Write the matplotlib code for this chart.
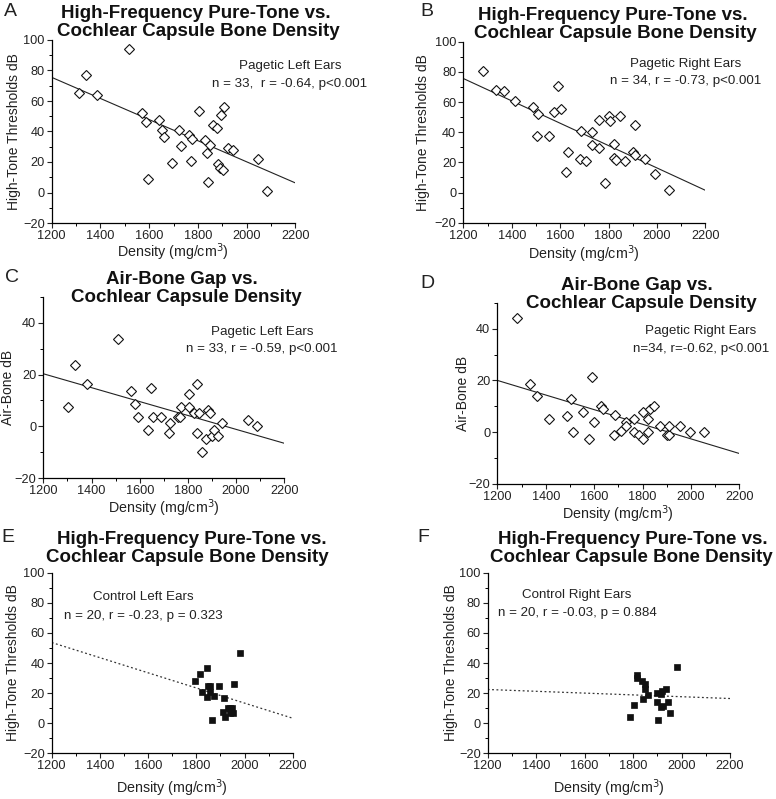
import numpy as np
import matplotlib
matplotlib.use("Agg")
import matplotlib.pyplot as plt
from matplotlib.ticker import MultipleLocator

plt.rcParams['font.family'] = ['Liberation Sans', 'DejaVu Sans']

W, H = 776, 799

# ---- data (density mg/cm3, dB) ----
a_x = [1313, 1341, 1386, 1519, 1571, 1587, 1642, 1651, 1661, 1595, 1692, 1724, 1731,
       1765, 1775, 1773, 1806, 1829, 1836, 1850, 1842, 1861, 1877, 1895, 1909, 1884,
       1891, 1902, 1925, 1943, 2048, 2085]
a_y = [65, 77, 64, 94, 52.4, 46.5, 47.6, 41.1, 36.5, 8.7, 19.6, 41.1, 30.2,
       37.8, 34.8, 20.9, 53.3, 34.1, 25.9, 30.9, 7.0, 44.1, 42.4, 50.7, 55.9, 18.5,
       16.1, 14.8, 29.3, 28.0, 21.7, 1.1]
a_fit = [75.5, 6.3]

b_x = [1283, 1336, 1368, 1413, 1488, 1509, 1503, 1555, 1576, 1590, 1602, 1634, 1626,
       1685, 1682, 1708, 1730, 1730, 1762, 1762, 1800, 1806, 1785, 1821, 1821, 1831,
       1846, 1869, 1901, 1908, 1911, 1951, 1993, 2050]
b_y = [80.7, 67.7, 67.0, 60.7, 57.0, 52.2, 37.5, 37.5, 53.4, 70.9, 55.6, 26.7, 13.4,
       40.5, 22.3, 20.6, 39.9, 31.5, 48.2, 29.8, 50.8, 47.3, 6.6, 32.2, 23.2, 21.5,
       50.8, 20.8, 27.2, 44.9, 25.0, 22.3, 12.3, 2.0]
b_fit = [75.6, 1.5]

c_x = [1304, 1333, 1380, 1511, 1564, 1579, 1591, 1636, 1645, 1655, 1690, 1720, 1727,
       1760, 1768, 1771, 1804, 1804, 1827, 1836, 1839, 1847, 1860, 1874, 1883, 1893,
       1900, 1908, 1925, 1943, 2048, 2087]
c_y = [7.4, 23.6, 16.2, 33.6, 13.7, 8.7, 3.8, -1.3, 14.9, 3.8, 3.8, -2.6, 1.3,
       3.8, 3.5, 7.6, 12.4, 7.6, 5.0, -2.4, 16.2, 5.0, -10.0, -5.0, 6.3, 5.0,
       -3.7, -1.3, -3.7, 1.2, 2.6, 0.0]
c_fit = [20.3, -6.5]

d_x = [1280, 1336, 1365, 1412, 1490, 1503, 1511, 1556, 1577, 1590, 1601, 1628, 1635,
       1686, 1683, 1711, 1730, 1732, 1763, 1765, 1787, 1801, 1803, 1823, 1824, 1833,
       1848, 1871, 1903, 1909, 1908, 1953, 1996, 2053]
d_y = [44.0, 18.7, 13.9, 5.0, 6.3, 12.6, 0.1, 7.7, -2.6, 21.4, 3.9, 10.2, 8.8,
       6.5, -1.3, 0.3, 3.9, 2.5, 4.9, 0.1, -1.3, 7.7, -2.6, 5.0, 0.1, 8.8,
       10.2, 2.5, -1.3, -1.3, 2.5, 2.5, 0.1, 0.1]
d_fit = [20.0, -8.3]

e_x = [1793, 1817, 1843, 1824, 1843, 1847, 1857, 1857, 1872, 1864, 1896, 1914, 1911,
       1921, 1932, 1940, 1950, 1957, 1981, 1951, 1940]
e_y = [28.3, 32.6, 37.0, 20.6, 17.7, 24.8, 24.8, 20.4, 18.4, 1.8, 24.6, 16.6, 7.3,
       3.8, 10.4, 7.1, 10.4, 25.9, 46.7, 7.1, 10.4]
e_fit = [53.6, 3.3]

f_x = [1787, 1802, 1815, 1815, 1835, 1840, 1851, 1851, 1860, 1899, 1903, 1899, 1917,
       1921, 1925, 1936, 1945, 1952, 1983, 1915]
f_y = [4.2, 12.0, 32.0, 29.8, 28.1, 16.4, 25.9, 22.8, 19.0, 19.9, 2.2, 14.2, 19.7,
       21.5, 11.3, 22.4, 14.2, 6.9, 37.4, 10.9]
f_fit = [22.4, 16.4]

title_hf = ["High-Frequency Pure-Tone vs.", "Cochlear Capsule Bone Density"]
title_ab = ["Air-Bone Gap vs.", "Cochlear Capsule Density"]

fig = plt.figure(figsize=(W / 100, H / 100), dpi=100)
fig.patch.set_facecolor('white')


def fx(px):
    return px / W


def fy(py):
    return 1 - py / H


def make_ax(x0, x1, ytop, ybot, ylim, ylabel, ylab_x):
    ax = fig.add_axes([fx(x0), fy(ybot), fx(x1 - x0), (ybot - ytop) / H])
    ax.set_xlim(1200, 2200)
    ax.set_ylim(*ylim)
    for s in ['top', 'right']:
        ax.spines[s].set_visible(False)
    for s in ['left', 'bottom']:
        ax.spines[s].set_linewidth(0.9)
    ax.xaxis.set_major_locator(MultipleLocator(200))
    ax.xaxis.set_minor_locator(MultipleLocator(100))
    ax.yaxis.set_major_locator(MultipleLocator(20))
    ax.yaxis.set_minor_locator(MultipleLocator(10))
    ax.tick_params(which='major', direction='out', length=3.5, width=0.8,
                   labelsize=9.2, pad=1.5, colors='#222222')
    ax.tick_params(which='minor', direction='out', length=2, width=0.7)
    ax.set_facecolor('none')
    fig.text(fx(ylab_x), fy((ytop + ybot) / 2), ylabel, rotation=90,
             ha='center', va='center', fontsize=10, color='#222222')
    return ax


def xlabel(cx, cy):
    fig.text(fx(cx), fy(cy), "Density (mg/cm$^3$)", ha='center', va='center',
             fontsize=10.3, color='#222222')


def titles(lines, cx1, y1, cx2, y2):
    fig.text(fx(cx1), fy(y1), lines[0], ha='center', va='center',
             fontsize=13.5, fontweight='bold', color='#111111')
    fig.text(fx(cx2), fy(y2), lines[1], ha='center', va='center',
             fontsize=13.5, fontweight='bold', color='#111111')


def note(cx, y1, y2, l1, l2):
    fig.text(fx(cx), fy(y1), l1, ha='center', va='center', fontsize=9.6, color='#222222')
    fig.text(fx(cx), fy(y2), l2, ha='center', va='center', fontsize=9.6, color='#222222')


def letter(x, y, s):
    fig.text(fx(x), fy(y), s, ha='center', va='center', fontsize=14, color='#222222')


fit_x = [1200, 2200]
open_kw = dict(marker='D', ms=4.6, mfc='white', mec='#111111', mew=0.8, ls='none', zorder=3)
fill_kw = dict(marker='s', ms=4.5, mfc='#111111', mec='#111111', mew=0.5, ls='none', zorder=3)

# A
ax = make_ax(51.7, 295.3, 40, 223, (-20, 100), "High-Tone Thresholds dB", 14)
ax.plot(fit_x, a_fit, color='#222222', lw=0.8)
ax.plot(a_x, a_y, **open_kw)
titles(title_hf, 196, 13, 198, 32)
note(290, 66, 84, "Pagetic Left Ears", "n = 33,  r = -0.64, p<0.001")
xlabel(173, 252)
letter(10, 12, "A")

# B
ax = make_ax(463.3, 705.3, 41.7, 222.7, (-20, 100), "High-Tone Thresholds dB", 423)
ax.plot(fit_x, b_fit, color='#222222', lw=0.8)
ax.plot(b_x, b_y, **open_kw)
titles(title_hf, 613, 15, 615, 33)
note(686, 64, 81, "Pagetic Right Ears", "n = 34, r = -0.73, p<0.001")
xlabel(584, 254)
letter(427, 11, "B")

# C
ax = make_ax(43.3, 284.3, 296.7, 478.3, (-20, 50), "Air-Bone dB", 8)
ax.plot(fit_x, c_fit, color='#222222', lw=0.8)
ax.plot(c_x, c_y, **open_kw)
titles(title_ab, 182, 279, 186, 298)
note(262, 332, 349, "Pagetic Left Ears", "n = 33, r = -0.59, p<0.001")
xlabel(164, 508)
letter(12, 277, "C")

# D
ax = make_ax(497.3, 739.3, 302.9, 483.7, (-20, 50), "Air-Bone dB", 463)
ax.plot(fit_x, d_fit, color='#222222', lw=0.8)
ax.plot(d_x, d_y, **open_kw)
titles(title_ab, 637, 285, 641, 303)
note(701, 331, 349, "Pagetic Right Ears", "n=34, r=-0.62, p<0.001")
xlabel(618, 514)
letter(427, 283, "D")

# E
ax = make_ax(51.7, 292.7, 572.7, 753.3, (-20, 100), "High-Tone Thresholds dB", 13)
ax.plot(fit_x, e_fit, color='#333333', lw=0.9, ls=(0, (1.5, 2)))
ax.plot(e_x, e_y, **fill_kw)
titles(title_hf, 192, 540, 187, 557)
note(143, 597, 616, "Control Left Ears", "n = 20, r = -0.23, p = 0.323")
xlabel(172, 788)
letter(8, 537, "E")

# F
ax = make_ax(487.7, 730, 572.7, 753.3, (-20, 100), "High-Tone Thresholds dB", 451)
ax.plot(fit_x, f_fit, color='#333333', lw=0.9, ls=(0, (1.5, 2)))
ax.plot(f_x, f_y, **fill_kw)
titles(title_hf, 633, 540, 631, 558)
note(577, 595, 613, "Control Right Ears", "n = 20, r = -0.03, p = 0.884")
xlabel(609, 788)
letter(423, 537, "F")

fig.savefig("out.png", dpi=100)
